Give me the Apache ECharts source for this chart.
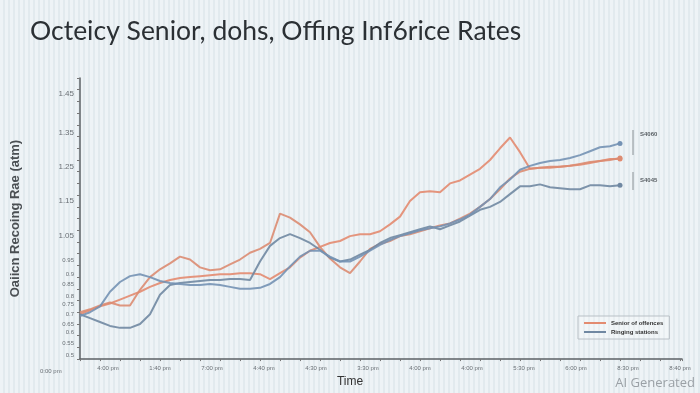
<!DOCTYPE html>
<html>
<head>
<meta charset="utf-8">
<script src="https://cdn.jsdelivr.net/npm/echarts@6/dist/echarts.min.js"></script>
<style>
html,body{margin:0;padding:0;}
body{width:700px;height:393px;background:#e9f0f3;
background-image:repeating-linear-gradient(90deg,#eef3f6 0px,#eef3f6 3px,#e2eaee 3px,#e2eaee 5px);}
#chart{width:700px;height:393px;}
</style>
</head>
<body>
<div id="chart"></div>
<script>
// sample positions (time steps)
const timeSteps = [0,1,2,3,4,5,6,7,8,9,10,11,12,13,14,15,16,17,18,19,20,21,22,23,24,25,26,27,28,29,30,31,32,33,34,35,36,37,38,39,40,41,42,43,44,45,46,47,48,49,50,51,52,53,54];

// orange series 1 (upper at the peak)
const seniorA = [46,50,54,57,61,65,69,74,78,81,83,84,85,86,87,87,88,88,87,82,88,94,104,111,115,119,121,126,128,128,131,138,146,162,171,172,171,180,183,189,195,204,216,227,212,195,196,196,197,198,199,201,203,205,205];
// orange series 2 (zig-zag, dip, then follows the bundle)
const seniorB = [48,51,55,58,55,55,71,84,92,98,105,102,94,91,92,97,102,109,113,119,149,145,138,130,115,103,94,88,100,113,118,121,126,128,131,134,137,139,144,149,156,164,174,185,192,195,196,197,197,198,200,202,203,204,206];
// blue series 1 (early dip, hump, ends lower)
const ringingA = [46,42,38,34,32,32,36,46,66,76,78,79,80,81,81,82,82,81,100,116,124,128,124,119,112,104,100,102,107,112,119,124,127,130,133,136,133,137,141,147,153,156,161,169,177,177,179,176,175,174,174,178,178,177,178];
// blue series 2 (early rise, ends upper)
const ringingB = [44,48,54,69,79,85,87,84,80,78,77,76,76,77,76,74,72,72,73,77,84,95,105,111,111,105,100,100,105,111,117,122,126,129,132,134,136,139,143,148,156,164,176,184,194,198,201,203,204,206,209,213,217,218,221];

const xTickValues = [2.8,8.0,13.2,18.4,23.6,28.8,34.0,39.2,44.4,49.6,54.8,60.0];
const xTickLabels = ['4:00 pm','1:40 pm','7:00 pm','4:40 pm','4:30 pm','3:30 pm','4:00 pm','4:00 pm','5:30 pm','6:00 pm','8:30 pm','8:40 pm'];
const yTickValues = [272,232,197,162,126,101,87,77,64,56,46,36,27,16,4];
const yTickLabels = ['1.45','1.35','1.25','1.15','1.05','0.95','0.9','0.85','0.8','0.75','0.7','0.65','0.6','0.55','0.5'];

const seriesNames = ['Senior of offences','Ringing stations'];

function toPairs(vals){
  return vals.map((v,i)=> i===vals.length-1
    ? {value:[timeSteps[i],v], symbol:'circle', symbolSize:5}
    : [timeSteps[i],v]);
}

const orange = '#e38b70', orange2 = '#dc8c72', blue = '#7492b4', blue2 = '#7088a2';

function lineSeries(name, vals, color){
  return {
    name:name, type:'line', data:toPairs(vals), symbol:'none', showSymbol:true,
    lineStyle:{color:color,width:2,opacity:0.9}, itemStyle:{color:color},
    emphasis:{disabled:true}, z:2
  };
}

const chart = echarts.init(document.getElementById('chart'));
chart.setOption({
  animation:false,
  backgroundColor:'transparent',
  title:{
    text:'Octeicy Senior, dohs, Offing Inf6rice Rates',
    left:30, top:18, padding:0,
    textStyle:{fontFamily:'Lato',fontSize:26.5,fontWeight:'normal',color:'#2b3034'}
  },
  legend:{
    data:seriesNames, orient:'vertical', left:578, top:316,
    padding:[4,6], itemGap:3, itemWidth:22, itemHeight:2, icon:'rect',
    borderColor:'#b9c0c6', borderWidth:1, backgroundColor:'rgba(255,255,255,0.25)',
    textStyle:{fontSize:6,color:'#333',fontWeight:'bold'}
  },
  grid:{left:80,right:18,top:78,bottom:29,containLabel:false},
  xAxis:{
    type:'value', min:0, max:60.2, interval:2,
    name:'Time', nameLocation:'middle', nameGap:13,
    nameTextStyle:{fontSize:12,color:'#333',padding:[0,62,0,0],fontFamily:'Liberation Sans'},
    axisLine:{lineStyle:{color:'#5c6266',width:1.5}},
    axisTick:{show:true,length:2,lineStyle:{color:'#777'}},
    axisLabel:{customValues:xTickValues, fontSize:6, color:'#6a7075', margin:6,
      formatter:(v)=>{const i=xTickValues.findIndex(t=>Math.abs(t-v)<1e-6);return i>=0?xTickLabels[i]:'';}},
    splitLine:{show:false}
  },
  yAxis:{
    type:'value', min:0, max:288, interval:12,
    name:'Oaiicn Recoing Rae (atm)', nameLocation:'middle', nameGap:58,
    nameTextStyle:{fontSize:13,fontWeight:'bold',color:'#4a4f53'},
    axisLine:{show:true,lineStyle:{color:'#5c6266',width:1.5}},
    axisTick:{show:true,length:3,lineStyle:{color:'#777'}},
    axisLabel:{customValues:yTickValues, color:'#6a7075', margin:6,
      formatter:(v)=>{const i=yTickValues.findIndex(t=>Math.abs(t-v)<1e-6);
        if(i<0) return ''; return i<5?'{b|'+yTickLabels[i]+'}':'{s|'+yTickLabels[i]+'}';},
      rich:{b:{fontSize:8,color:'#6a7075'},s:{fontSize:6,color:'#6a7075'}}},
    splitLine:{show:false}
  },
  series:[
    lineSeries(seriesNames[0], seniorA, orange),
    lineSeries(seriesNames[0], seniorB, orange2),
    lineSeries(seriesNames[1], ringingA, blue2),
    lineSeries(seriesNames[1], ringingB, blue)
  ],
  graphic:[
    {type:'text', left:40, top:368, style:{text:'0:00 pm', fontSize:6, fill:'#6a7075'}},
    {type:'line', shape:{x1:633,y1:130,x2:633,y2:155}, style:{stroke:'#8a9095',lineWidth:1}},
    {type:'line', shape:{x1:633,y1:172,x2:633,y2:190}, style:{stroke:'#8a9095',lineWidth:1}},
    {type:'text', left:640, top:131, style:{text:'S4060', fontSize:6, fontWeight:'bold', fill:'#5a6065'}},
    {type:'text', left:640, top:177, style:{text:'S4045', fontSize:6, fontWeight:'bold', fill:'#5a6065'}},
    {type:'text', right:5, bottom:3, style:{text:'AI Generated', fontSize:13, fontFamily:'Open Sans', fill:'#9ba1a6'}}
  ]
});
</script>
</body>
</html>
